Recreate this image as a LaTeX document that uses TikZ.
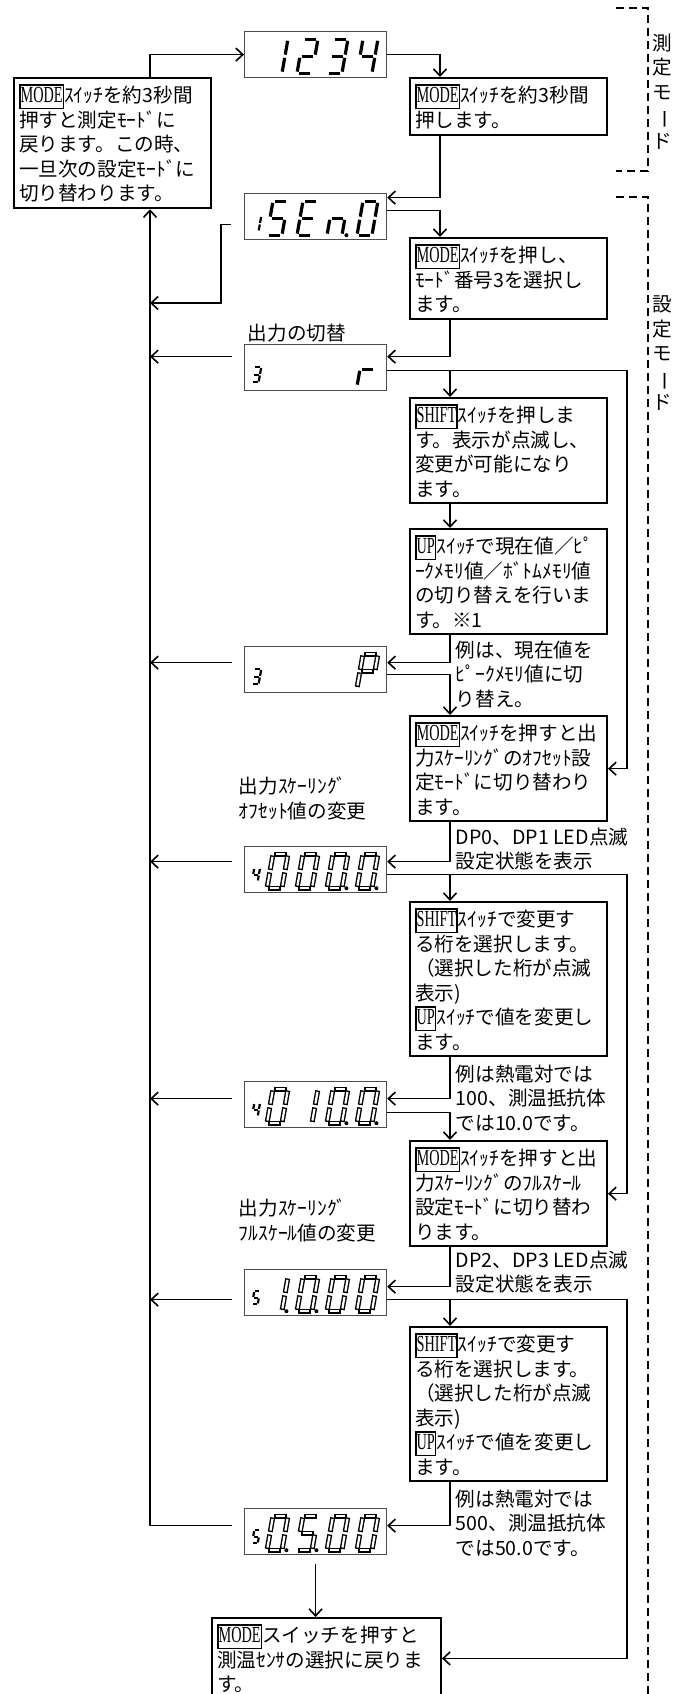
\documentclass[tikz,border=0pt]{standalone}
\usepackage{fontspec}
\setmainfont{Noto Sans CJK JP}
\newfontfamily\keyfont{Liberation Serif}[FakeStretch=0.62]
\usepackage{graphicx}
\usetikzlibrary{arrows.meta}

\newcommand\keybox[1]{{\setlength\fboxsep{0pt}\setlength\fboxrule{0.8pt}%
  \fbox{\rule[-2.5pt]{0pt}{11pt}\keyfont\fontsize{11.5pt}{12pt}\selectfont #1}}}

\newcommand\lcdchar[5]{%
  \edef\seglist{#4}%
  \begin{scope}[shift={(#1,-#2)}, x={(0.22pt*#3,0)}, y={(0.044pt*#3,0.25pt*#3)}]
    \foreach \sgm in \seglist {
      \if a\sgm \draw[#5] (0,2) -- (1,2); \fi
      \if b\sgm \draw[#5] (1,2) -- (1,1); \fi
      \if c\sgm \draw[#5] (1,1) -- (1,0); \fi
      \if d\sgm \draw[#5] (0,0) -- (1,0); \fi
      \if e\sgm \draw[#5] (0,0) -- (0,1); \fi
      \if f\sgm \draw[#5] (0,1) -- (0,2); \fi
      \if g\sgm \draw[#5] (0,1) -- (1,1); \fi
      \if p\sgm \fill (1.3,0) circle (1pt); \fi
    }
  \end{scope}}

\begin{document}
\begin{tikzpicture}[x=0.5pt, y=-0.5pt, line width=0.8pt,
  >={Straight Barb[length=3.5pt,width=6.5pt]},
  every node/.style={font=\fontsize{9.8pt}{12.25pt}\selectfont},
  note/.style={draw, line width=1pt, anchor=north west, text width=93.5pt,
    inner xsep=2.5pt, inner ysep=3pt, align=left},
  lcd/.style={draw=black!70, line width=0.6pt, anchor=north west,
    minimum width=71pt, minimum height=23pt, inner sep=0pt},
  txt/.style={anchor=north west, inner sep=0pt, align=left},
  segsolid/.style={line width=1.6pt, shorten <=0.8pt, shorten >=0.8pt},
  seghollow/.style={draw=white, line width=1.1pt, shorten <=1.35pt, shorten >=1.35pt,
    preaction={draw=black, line width=2.5pt, shorten <=0.65pt, shorten >=0.65pt}},
  segsmall/.style={line width=1.1pt, shorten <=0.4pt, shorten >=0.4pt}]

  \path[use as bounding box, fill=white] (0,0) rectangle (690,1694);

  \node[note] (lbox) at (13,77) {\keybox{MODE}ｽｲｯﾁを約3秒間\\押すと測定ﾓｰﾄﾞに\\戻ります。この時、\\一旦次の設定ﾓｰﾄﾞに\\切り替わります。};
  \node[note] (r1) at (409,77) {\keybox{MODE}ｽｲｯﾁを約3秒間\\押します。};
  \node[note] (r2) at (409,237) {\keybox{MODE}ｽｲｯﾁを押し、\\ﾓｰﾄﾞ番号3を選択し\\ます。};
  \node[note] (r3) at (409,397) {\keybox{SHIFT}ｽｲｯﾁを押しま\\す。表示が点滅し、\\変更が可能になり\\ます。};
  \node[note] (r4) at (409,528) {\keybox{UP}ｽｲｯﾁで現在値／ﾋﾟ\\ｰｸﾒﾓﾘ値／ﾎﾞﾄﾑﾒﾓﾘ値\\の切り替えを行いま\\す。※1};
  \node[note] (r5) at (409,715) {\keybox{MODE}ｽｲｯﾁを押すと出\\力ｽｹｰﾘﾝｸﾞのｵﾌｾｯﾄ設\\定ﾓｰﾄﾞに切り替わり\\ます。};
  \node[note] (r6) at (409,901) {\keybox{SHIFT}ｽｲｯﾁで変更す\\る桁を選択します。\\（選択した桁が点滅\\表示)\\\keybox{UP}ｽｲｯﾁで値を変更し\\ます。};
  \node[note] (r7) at (409,1140) {\keybox{MODE}ｽｲｯﾁを押すと出\\力ｽｹｰﾘﾝｸﾞのﾌﾙｽｹｰﾙ\\設定ﾓｰﾄﾞに切り替わ\\ります。};
  \node[note] (r8) at (409,1326) {\keybox{SHIFT}ｽｲｯﾁで変更す\\る桁を選択します。\\（選択した桁が点滅\\表示)\\\keybox{UP}ｽｲｯﾁで値を変更し\\ます。};
  \node[note, text width=109.5pt] (fbox) at (211,1617) {\keybox{MODE}スイッチを押すと\\測温ｾﾝｻの選択に戻りま\\す。};

  \node[lcd] (d1234) at (244,31) {};
  \node[lcd] (dSEn) at (244,193) {};
  \node[lcd] (d3r) at (244,344) {};
  \node[lcd] (d3P) at (244,646) {};
  \node[lcd] (d4000) at (244,846) {};
  \node[lcd] (d4010) at (244,1081) {};
  \node[lcd] (d5) at (244,1269) {};
  \node[lcd] (d50) at (244,1508) {};

  \begin{scope}[shift={(d1234.south west)}]
    \foreach \px/\sg in {23/{b,c}, 53/{a,b,g,e,d}, 83/{a,b,g,c,d}, 113/{f,g,b,c}}
      {\lcdchar{\px}{5}{34}{\sg}{segsolid}}
  \end{scope}
  \begin{scope}[shift={(dSEn.south west)}]
    \lcdchar{8}{9}{15}{b,c}{segsmall}
    \foreach \px/\sg in {23/{a,f,g,c,d}, 53/{a,f,g,e,d}, 83/{e,g,c,p}, 113/{a,b,c,d,e,f}}
      {\lcdchar{\px}{5}{34}{\sg}{segsolid}}
  \end{scope}
  \begin{scope}[shift={(d3r.south west)}]
    \lcdchar{8}{9}{15}{a,b,g,c,d}{segsmall}
    \lcdchar{113}{5}{34}{e,g}{segsolid}
  \end{scope}
  \begin{scope}[shift={(d3P.south west)}]
    \lcdchar{8}{9}{15}{a,b,g,c,d}{segsmall}
    \lcdchar{113}{5}{34}{a,b,f,g,e}{seghollow}
  \end{scope}
  \begin{scope}[shift={(d4000.south west)}]
    \lcdchar{8}{12}{13}{f,g,b,c}{segsmall}
    \foreach \px/\sg in {23/{a,b,c,d,e,f}, 53/{a,b,c,d,e,f}, 83/{a,b,c,d,e,f,p}, 113/{a,b,c,d,e,f,p}}
      {\lcdchar{\px}{5}{34}{\sg}{seghollow}}
  \end{scope}
  \begin{scope}[shift={(d4010.south west)}]
    \lcdchar{8}{12}{13}{f,g,b,c}{segsmall}
    \foreach \px/\sg in {23/{a,b,c,d,e,f}, 53/{b,c}, 83/{a,b,c,d,e,f,p}, 113/{a,b,c,d,e,f,p}}
      {\lcdchar{\px}{5}{34}{\sg}{seghollow}}
  \end{scope}
  \begin{scope}[shift={(d5.south west)}]
    \lcdchar{8}{12}{13}{a,f,g,c,d}{segsmall}
    \foreach \px/\sg in {23/{b,c,p}, 53/{a,b,c,d,e,f,p}, 83/{a,b,c,d,e,f}, 113/{a,b,c,d,e,f}}
      {\lcdchar{\px}{5}{34}{\sg}{seghollow}}
  \end{scope}
  \begin{scope}[shift={(d50.south west)}]
    \lcdchar{8}{12}{13}{a,f,g,c,d}{segsmall}
    \foreach \px/\sg in {23/{a,b,c,d,e,f,p}, 53/{a,f,g,c,d,p}, 83/{a,b,c,d,e,f}, 113/{a,b,c,d,e,f}}
      {\lcdchar{\px}{5}{34}{\sg}{seghollow}}
  \end{scope}

  \node[txt] (l1) at (247,323) {出力の切替};
  \node[txt] (l2) at (238,776) {出力ｽｹｰﾘﾝｸﾞ\\ｵﾌｾｯﾄ値の変更};
  \node[txt] (l3) at (238,1198) {出力ｽｹｰﾘﾝｸﾞ\\ﾌﾙｽｹｰﾙ値の変更};
  \node[txt] (n1) at (455,640) {例は、現在値を\\ﾋﾟｰｸﾒﾓﾘ値に切\\り替え。};
  \node[txt] (n2) at (455,827) {DP0、DP1 LED点滅\\設定状態を表示};
  \node[txt] (n3) at (455,1064) {例は熱電対では\\100、測温抵抗体\\では10.0です。};
  \node[txt] (n4) at (455,1250) {DP2、DP3 LED点滅\\設定状態を表示};
  \node[txt] (n5) at (455,1489) {例は熱電対では\\500、測温抵抗体\\では50.0です。};

  \node[anchor=north, align=center, inner sep=0pt] (mmeas) at (662,33) {測\\定\\モ\\\rotatebox[origin=c]{-90}{ー}\\ド};
  \node[anchor=north, align=center, inner sep=0pt] (mset) at (662,295) {設\\定\\モ\\\rotatebox[origin=c]{-90}{ー}\\ド};
  \draw[dash pattern=on 4pt off 2.5pt] (616,8) -| (648,171) -- (616,171);
  \draw[dash pattern=on 4pt off 2.5pt] (616,197) -| (648,1694);

  \coordinate (mainx) at (150,0);
  \coordinate (colA) at (440,0);
  \coordinate (colB) at (450,0);
  \coordinate (colR) at (627,0);
  \coordinate (j1) at (150,303);

  \draw[->] (lbox.north -| mainx) |- (d1234.west);
  \draw[->] (d1234.east) -| (r1.north -| colA);
  \draw[->] (r1.south -| colA) |- ([yshift=9.5pt]dSEn.east);
  \draw[->] ([yshift=3pt]dSEn.east) -| (r2.north -| colA);
  \draw[->] ([xshift=-6.5pt,yshift=-4pt]dSEn.west) -- ++(-10,0) |- (j1);
  \draw[->] (r2.south -| colB) |- ([yshift=5.5pt]d3r.east);
  \draw[->] ([xshift=-6pt,yshift=5.5pt]d3r.west) coordinate (t) -- (t -| mainx);
  \draw[->] ([yshift=-1.5pt]d3r.east) coordinate (t) -| (colR |- r5.east) -- (r5.east);
  \draw[->] (t -| colB) -- (r3.north -| colB);
  \draw[->] (r3.south -| colB) -- (r4.north -| colB);
  \draw[->] (r4.south -| colB) |- ([yshift=3.5pt]d3P.east);
  \draw[->] ([xshift=-6pt,yshift=3.5pt]d3P.west) coordinate (t) -- (t -| mainx);
  \draw[->] ([yshift=-2.5pt]d3P.east) -| (r5.north -| colB);
  \draw[->] (r5.south -| colB) |- ([yshift=4pt]d4000.east);
  \draw[->] ([xshift=-6pt,yshift=4pt]d4000.west) coordinate (t) -- (t -| mainx);
  \draw[->] ([yshift=-2.5pt]d4000.east) coordinate (t) -| (colR |- r7.east) -- (r7.east);
  \draw[->] (t -| colB) -- (r6.north -| colB);
  \draw[->] (r6.south -| colB) |- ([yshift=3pt]d4010.east);
  \draw[->] ([xshift=-6pt,yshift=3pt]d4010.west) coordinate (t) -- (t -| mainx);
  \draw[->] ([yshift=-4pt]d4010.east) -| (r7.north -| colB);
  \draw[->] (r7.south -| colB) |- ([yshift=3pt]d5.east);
  \draw[->] ([xshift=-6pt,yshift=-3.5pt]d5.west) coordinate (t) -- (t -| mainx);
  \draw[->] ([yshift=-3.5pt]d5.east) coordinate (t) -| (colR |- fbox.east) -- (fbox.east);
  \draw[->] (t -| colB) -- (r8.north -| colB);
  \draw[->] (r8.south -| colB) |- ([yshift=3pt]d50.east);
  \draw[->] ([xshift=-6pt,yshift=3pt]d50.west) coordinate (t) -- (t -| mainx) -- (lbox.south -| mainx);
  \draw[->] ([yshift=-4.5pt]d50.south) -- (d50.south |- fbox.north);
\end{tikzpicture}
\end{document}
